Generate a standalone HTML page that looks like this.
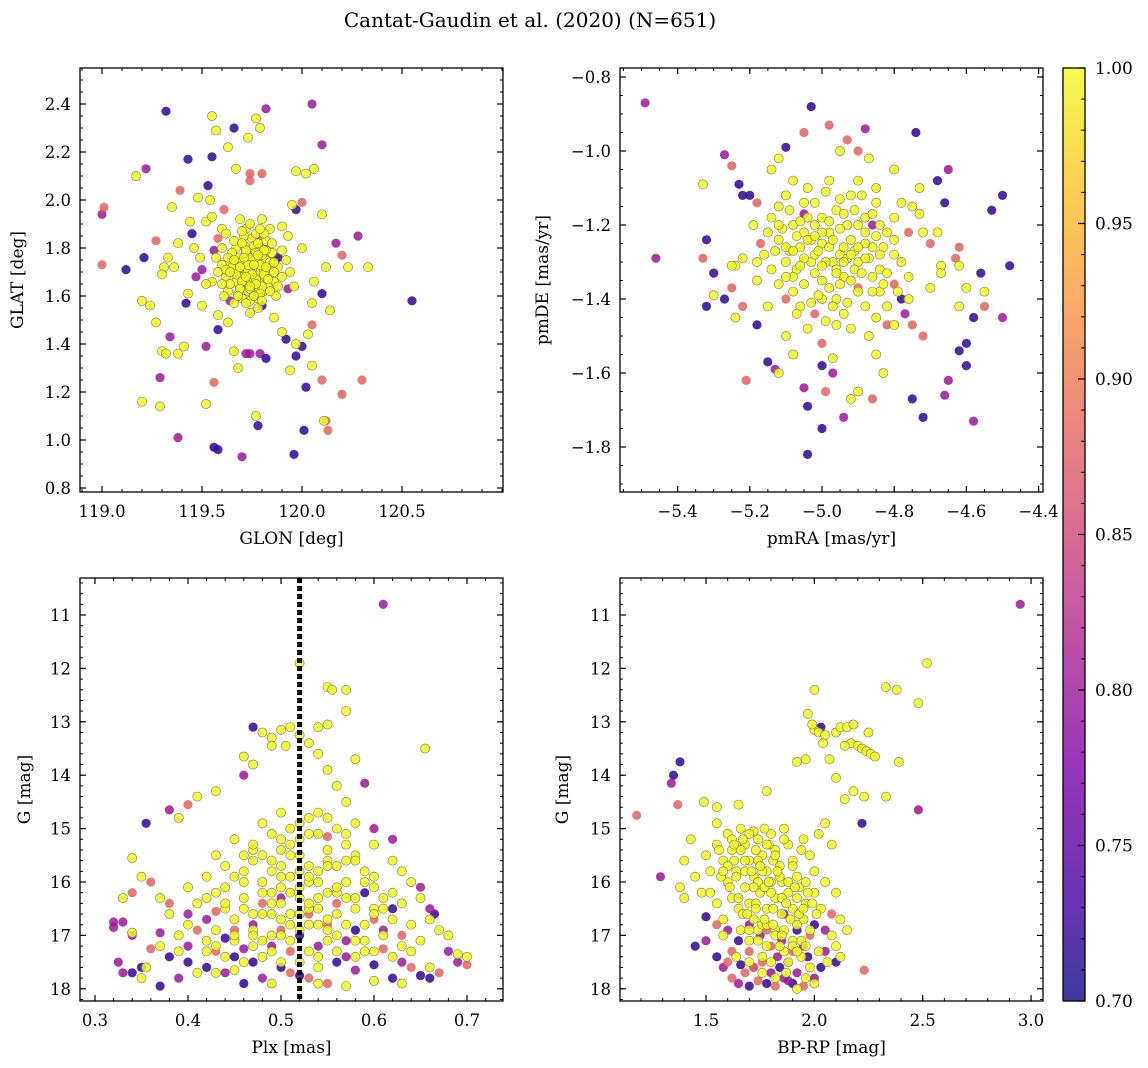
<!DOCTYPE html>
<html><head><meta charset="utf-8"><style>
html,body{margin:0;padding:0;background:#fff;}
svg{display:block;font-family:"DejaVu Serif","Liberation Serif",serif;}
</style></head><body>
<svg id="fig" width="1148" height="1068" viewBox="0 0 1148 1068">
<defs>
<linearGradient id="plasma" x1="0" y1="1" x2="0" y2="0">
<stop offset="0" stop-color="#0d0887"/><stop offset="0.125" stop-color="#4c02a1"/><stop offset="0.25" stop-color="#7e03a8"/><stop offset="0.375" stop-color="#a92395"/><stop offset="0.5" stop-color="#cc4778"/><stop offset="0.625" stop-color="#e56b5d"/><stop offset="0.75" stop-color="#f89540"/><stop offset="0.875" stop-color="#fdc527"/><stop offset="1" stop-color="#f0f921"/>
</linearGradient>
</defs>
<text x="530" y="27" font-size="20" text-anchor="middle">Cantat-Gaudin et al. (2020) (N=651)</text>
</svg>
<script>
// ---------- Panel 1: GLON / GLAT ----------
const p1OutX=[119.32,120.05,119.82,119.66,120.1,119.43,119.55,119.22,119.53,119.0,119.01,119.0,119.12,119.21,119.42,119.27,119.39,119.45,120.55,120.1,120.17,120.28,120.2,120.05,120.1,120.3,120.2,120.02,120.01,120.13,120.12,119.96,119.7,119.78,119.56,119.58,119.38,119.29,119.34,119.56,119.52,119.58,119.72,119.74,119.79,119.82,119.92,120.0,119.97,119.93,120.0,119.97,119.79,119.74,119.74,119.8,119.61,119.58,119.56,119.5,119.47,119.64,119.8,119.88];
const p1OutY=[2.37,2.40,2.38,2.30,2.23,2.17,2.18,2.13,2.06,1.94,1.97,1.73,1.71,1.76,1.57,1.83,2.04,1.86,1.58,1.61,1.82,1.85,1.77,1.48,1.25,1.25,1.19,1.22,1.04,1.04,1.08,0.94,0.93,1.06,0.97,0.96,1.01,1.26,1.43,1.24,1.39,1.46,1.36,1.36,1.36,1.34,1.42,1.39,1.35,1.63,1.99,1.96,1.85,2.11,2.08,2.11,1.96,1.84,1.79,1.71,1.68,1.58,1.56,1.76];
const p1OutP=[0.72,0.8,0.8,0.72,0.8,0.72,0.72,0.8,0.72,0.8,0.88,0.88,0.72,0.72,0.72,0.88,0.88,0.72,0.72,0.72,0.8,0.8,0.88,0.88,0.88,0.88,0.88,0.72,0.72,0.88,0.88,0.72,0.8,0.72,0.72,0.72,0.8,0.8,0.8,0.88,0.8,0.72,0.8,0.8,0.8,0.72,0.72,0.72,0.72,0.8,0.88,0.72,0.88,0.88,0.88,0.88,0.88,0.88,0.8,0.8,0.8,0.8,0.72,0.72];
const p1InX=[119.55,119.57,119.77,119.79,119.73,119.63,119.17,119.35,119.44,119.48,119.54,119.67,120.06,119.97,120.02,120.1,119.95,119.2,119.24,119.31,119.3,119.38,119.33,119.36,119.3,119.32,119.38,119.41,119.27,119.43,119.5,119.2,119.29,119.52,119.77,120.11,119.94,120.05,119.66,119.68,120.33,120.23,120.12,120.14,120.05,120.06,119.97,120.03,119.9,119.86,119.63,119.58,119.55,119.52,119.6,119.52,119.55,119.9,119.93,120.0,119.46,119.49,
119.70,119.74,119.78,119.72,119.80,119.76,119.68,119.66,119.82,119.84,119.77,119.73,119.69,119.64,119.62,119.86,119.88,119.79,119.71,119.75,119.67,119.81,119.74,119.70,119.85,119.60,119.63,119.90,119.78,119.73,119.76,119.71,119.80,119.68,119.83,119.65,119.77,119.72,119.82,119.60,119.92,119.87,119.66,119.78,119.58,119.94,119.74,119.80,119.69,119.84,119.62,119.57,119.96,119.61,119.75,119.79,119.72,119.69,119.81,119.77];
const p1InY=[2.35,2.29,2.34,2.30,2.26,2.22,2.10,1.97,1.91,2.01,2.0,2.13,2.13,2.12,2.11,1.94,1.98,1.58,1.56,1.72,1.69,1.82,1.76,1.72,1.37,1.36,1.36,1.39,1.49,1.61,1.56,1.16,1.14,1.15,1.10,1.08,1.29,1.31,1.37,1.30,1.72,1.72,1.72,1.54,1.57,1.66,1.40,1.44,1.45,1.51,1.49,1.52,1.66,1.65,1.88,1.91,1.93,1.89,1.85,1.80,1.80,1.76,
1.72,1.70,1.74,1.66,1.68,1.78,1.76,1.70,1.75,1.70,1.64,1.62,1.64,1.74,1.68,1.66,1.72,1.80,1.81,1.84,1.80,1.62,1.58,1.59,1.78,1.73,1.62,1.68,1.70,1.75,1.67,1.69,1.77,1.71,1.64,1.78,1.86,1.88,1.83,1.80,1.75,1.60,1.57,1.55,1.70,1.70,1.53,1.92,1.92,1.88,1.86,1.76,1.64,1.60,1.74,1.65,1.78,1.68,1.71,1.76];
const p1CoreX=[119.71,119.73,119.75,119.77,119.79,119.81,119.69,119.67,119.65,119.63,119.74,119.76,119.78,119.72,119.70,119.80,119.82,119.84,119.86,119.68,119.66,119.64,119.75,119.73,119.77,119.79,119.71,119.69,119.81,119.83,119.76,119.74,119.72,119.78,119.70,119.80,119.67,119.85,119.62,119.88,119.75,119.73,119.77,119.71,119.79,119.69,119.81,119.66,119.84,119.64,119.76,119.72,119.78,119.74,119.70,119.82,119.68,119.86,119.60,119.90];
const p1CoreY=[1.73,1.69,1.71,1.67,1.73,1.69,1.74,1.66,1.72,1.76,1.63,1.81,1.59,1.79,1.66,1.64,1.79,1.74,1.70,1.61,1.83,1.65,1.76,1.71,1.78,1.61,1.85,1.63,1.86,1.67,1.60,1.90,1.57,1.82,1.87,1.58,1.69,1.82,1.71,1.64,1.69,1.73,1.65,1.76,1.88,1.72,1.79,1.75,1.62,1.70,1.73,1.68,1.77,1.64,1.82,1.72,1.60,1.74,1.65,1.79];

// ---------- Panel 2: pmRA / pmDE ----------
const p2OutX=[-5.49,-5.03,-4.88,-4.74,-5.1,-4.98,-5.05,-4.93,-4.9,-5.27,-5.25,-5.23,-5.22,-5.2,-5.18,-4.65,-4.66,-4.68,-4.5,-4.48,-4.53,-4.56,-4.62,-4.63,-5.46,-5.32,-5.33,-5.3,-5.32,-5.27,-5.25,-5.22,-5.18,-5.15,-5.13,-5.21,-5.05,-5.04,-5.04,-5.0,-4.99,-4.94,-4.97,-5.0,-4.86,-4.75,-4.72,-4.66,-4.65,-4.6,-4.58,-4.6,-4.62,-4.5,-4.55,-4.58,-4.72,-4.75,-4.78,-4.77,-4.8,-4.82,-5.1,-5.02,-5.0,-4.9,-5.17,-4.76,-4.7,-4.86,-5.05];
const p2OutY=[-0.87,-0.88,-0.94,-0.95,-0.99,-0.93,-0.95,-0.97,-1.0,-1.01,-1.04,-1.09,-1.12,-1.12,-1.14,-1.05,-1.14,-1.08,-1.12,-1.31,-1.16,-1.33,-1.26,-1.29,-1.29,-1.24,-1.29,-1.33,-1.42,-1.40,-1.37,-1.42,-1.47,-1.57,-1.59,-1.62,-1.64,-1.69,-1.82,-1.75,-1.65,-1.72,-1.60,-1.58,-1.67,-1.67,-1.72,-1.66,-1.62,-1.58,-1.73,-1.52,-1.54,-1.45,-1.42,-1.45,-1.50,-1.47,-1.40,-1.44,-1.36,-1.47,-1.40,-1.44,-1.52,-1.37,-1.25,-1.22,-1.25,-1.20,-1.17];
const p2OutP=[0.8,0.72,0.8,0.72,0.72,0.88,0.88,0.88,0.88,0.8,0.88,0.72,0.72,0.72,0.88,0.8,0.72,0.72,0.72,0.72,0.72,0.72,0.88,0.88,0.8,0.72,0.88,0.72,0.72,0.72,0.88,0.88,0.72,0.72,0.8,0.88,0.8,0.72,0.72,0.72,0.88,0.8,0.8,0.72,0.88,0.72,0.72,0.8,0.8,0.72,0.8,0.72,0.72,0.8,0.88,0.72,0.88,0.88,0.72,0.8,0.88,0.88,0.88,0.88,0.88,0.88,0.88,0.88,0.88,0.8,0.8];
const p2InX=[-5.33,-5.3,-5.24,-5.25,-5.24,-5.19,-5.14,-5.12,-5.08,-4.95,-4.87,-4.8,-4.73,-4.73,-4.72,-4.68,-4.67,-4.67,-4.62,-4.6,-4.55,-4.7,-4.62,-4.85,-4.83,-4.9,-4.92,-5.08,-5.1,-5.12,-4.97,-4.92,-4.8,-4.85,-4.76,-5.15,-5.18,-5.22,-5.14,-5.12,-4.78,-4.85,-4.75,
-5.0,-4.95,-4.98,-5.03,-4.92,-4.9,-5.06,-5.08,-4.88,-4.94,-5.0,-5.05,-4.86,-4.84,-4.82,-5.1,-5.12,-4.96,-5.02,-4.92,-4.98,-5.04,-4.9,-4.96,-5.06,-4.88,-4.84,-5.14,-5.16,-4.8,-4.78,-4.8,-5.02,-4.97,-4.93,-5.07,-4.86,-5.0,-4.94,-5.08,-4.9,-5.1,-4.85,-4.99,-5.04,-4.87,-5.12,-4.76,-5.18,-4.82,-4.98,-5.02,-4.94,-4.91,-5.05,-4.88,-5.09,-4.95,-5.0,-4.83];
const p2InY=[-1.09,-1.39,-1.31,-1.31,-1.45,-1.2,-1.05,-1.02,-1.08,-1.0,-1.02,-1.05,-1.1,-1.17,-1.22,-1.22,-1.31,-1.33,-1.31,-1.37,-1.38,-1.37,-1.42,-1.55,-1.60,-1.65,-1.67,-1.55,-1.50,-1.60,-1.56,-1.48,-1.47,-1.45,-1.4,-1.42,-1.35,-1.29,-1.18,-1.15,-1.14,-1.1,-1.15,
-1.25,-1.28,-1.22,-1.3,-1.24,-1.3,-1.26,-1.2,-1.18,-1.34,-1.35,-1.36,-1.26,-1.32,-1.22,-1.3,-1.24,-1.16,-1.14,-1.12,-1.08,-1.1,-1.38,-1.4,-1.42,-1.42,-1.38,-1.32,-1.28,-1.28,-1.3,-1.18,-1.2,-1.3,-1.2,-1.32,-1.34,-1.18,-1.44,-1.38,-1.08,-1.12,-1.14,-1.46,-1.48,-1.5,-1.36,-1.34,-1.3,-1.42,-1.26,-1.28,-1.26,-1.32,-1.22,-1.22,-1.16,-1.36,-1.4,-1.26];
const p2CoreX=[-4.97,-4.99,-5.01,-4.93,-4.95,-5.03,-5.05,-4.91,-4.89,-5.07,-4.87,-5.09,-4.85,-5.11,-4.96,-5.0,-4.92,-5.04,-4.88,-5.08,-4.94,-4.98,-5.02,-4.9,-5.06,-4.86,-5.1,-4.84,-5.13,-4.82,-4.97,-5.01,-4.95,-5.03,-4.93,-5.05,-4.91,-5.07,-4.89,-4.99,-4.96,-5.0,-4.94,-5.04,-4.92,-5.08,-4.88,-5.12,-4.84,-4.8,-5.15,-4.98,-5.02,-4.96,-4.9,-5.06,-4.86,-5.1,-4.83,-4.79];
const p2CoreY=[-1.24,-1.3,-1.27,-1.29,-1.21,-1.24,-1.29,-1.27,-1.33,-1.23,-1.29,-1.27,-1.23,-1.21,-1.32,-1.22,-1.35,-1.18,-1.25,-1.34,-1.17,-1.37,-1.33,-1.2,-1.19,-1.38,-1.26,-1.2,-1.27,-1.33,-1.42,-1.39,-1.13,-1.41,-1.41,-1.14,-1.16,-1.44,-1.12,-1.11,-1.47,-1.31,-1.3,-1.24,-1.28,-1.27,-1.29,-1.2,-1.28,-1.24,-1.22,-1.19,-1.23,-1.33,-1.26,-1.31,-1.17,-1.34,-1.36,-1.38];

// ---------- Panel 3: Plx / G ----------
const p3OutX=[0.61,0.47,0.46,0.59,0.38,0.4,0.355,0.6,0.62,0.55,0.34,0.36,0.38,0.32,0.33,0.32,0.325,0.33,0.34,0.35,0.34,0.37,0.38,0.37,0.39,0.4,0.42,0.43,0.44,0.45,0.46,0.47,0.48,0.5,0.51,0.52,0.53,0.55,0.56,0.58,0.6,0.62,0.63,0.64,0.65,0.66,0.67,0.68,0.69,0.7,0.665,0.66,0.65,0.62,0.6,0.58,0.57,0.55,0.54,0.52,0.5,0.49,0.47,0.45,0.44,0.42,0.41,0.4,0.43,0.48,0.5,0.53,0.56,0.59,0.61,0.63,0.36,0.4,0.46,0.51,0.57,0.61];
const p3OutY=[10.8,13.1,14.0,14.15,14.65,14.55,14.9,15.0,15.2,15.15,16.2,16.0,16.4,16.75,16.75,16.85,17.5,17.7,17.7,17.6,17.0,16.95,17.4,17.95,17.8,17.5,17.6,17.3,17.7,17.4,17.9,17.5,17.8,17.6,17.7,17.75,17.8,17.9,17.5,17.65,17.55,17.8,17.5,17.6,17.75,17.8,17.7,17.3,17.5,17.55,16.6,16.5,16.1,16.5,16.7,16.9,17.1,16.8,17.2,17.0,16.9,17.2,16.8,16.9,17.05,16.7,16.9,16.6,16.55,16.4,16.3,16.6,16.4,16.2,16.9,17.0,17.25,17.2,17.25,17.3,17.4,17.25];
const p3OutP=[0.8,0.72,0.8,0.8,0.8,0.88,0.72,0.8,0.8,0.88,0.88,0.88,0.88,0.8,0.8,0.8,0.8,0.8,0.72,0.72,0.8,0.8,0.72,0.72,0.8,0.72,0.72,0.88,0.8,0.72,0.72,0.72,0.8,0.72,0.88,0.72,0.88,0.88,0.72,0.8,0.72,0.72,0.8,0.88,0.72,0.72,0.88,0.8,0.8,0.88,0.72,0.8,0.8,0.72,0.88,0.72,0.8,0.88,0.8,0.72,0.88,0.8,0.8,0.88,0.72,0.8,0.88,0.8,0.88,0.88,0.8,0.88,0.88,0.72,0.8,0.88,0.88,0.8,0.8,0.88,0.8,0.88];
const p3InX=[0.52,0.55,0.555,0.57,0.57,0.48,0.49,0.5,0.51,0.52,0.53,0.54,0.55,0.505,0.49,0.655,0.54,0.46,0.47,0.41,0.43,0.39,0.34,0.35,0.33,0.34,0.355,0.35,0.39,0.37,0.41,0.43,0.45,0.49,0.54,0.57,0.6,0.63,0.66,0.69,0.7,0.68,0.66,0.65,0.64,0.63,0.62,0.6,0.58,0.57,0.56,0.55,0.58,0.54,0.5,0.48,0.45,0.43,0.42,0.4,0.38,0.37,0.44,0.46,0.47,0.49,0.5,0.51,0.52,0.53,0.54,0.55,0.56,0.57,0.58,0.59,0.6,0.61,0.62,0.63,0.64,0.6,0.58,0.56,0.55,0.54,0.53,0.52,0.51,0.5,0.49,0.48,0.47,0.46,0.45,0.44,0.43,0.42,0.41,0.4,0.39,0.45,0.47,0.49,0.51,0.53,0.55,0.57,0.59,0.61,0.63,0.65,0.67,0.48,0.5,0.52,0.54,0.56,0.58,0.6,0.62,0.64,0.44,0.42,0.46,0.5,0.52,0.53,0.51,0.49,0.54,0.56,0.48,0.46,0.53,0.5,0.52,0.55,0.57];
const p3InY=[11.9,12.35,12.4,12.4,12.8,13.2,13.3,13.15,13.1,13.25,13.4,13.1,13.05,13.45,13.45,13.5,13.6,13.65,13.8,14.4,14.3,14.8,15.55,15.9,16.3,16.95,17.6,17.8,17.3,17.2,17.7,17.7,17.65,17.9,17.9,17.95,17.85,17.9,17.6,17.35,17.4,17.0,16.7,16.3,16.0,15.8,15.6,15.3,14.9,14.5,14.2,13.9,13.7,14.7,14.7,14.9,15.2,15.5,15.9,16.1,16.6,16.3,16.1,15.8,15.4,15.6,15.9,15.3,15.5,15.1,15.8,15.4,15.7,16.0,15.5,15.8,16.1,16.3,16.7,16.4,16.8,16.5,16.3,16.6,16.2,16.5,16.0,16.3,16.6,16.1,16.4,16.0,16.6,16.3,16.7,16.5,16.9,17.1,16.4,16.8,17.0,17.1,17.2,17.0,17.1,17.3,17.1,16.8,17.1,17.0,17.2,17.1,16.9,17.4,17.5,17.5,17.6,17.3,17.4,17.3,17.4,17.3,17.4,17.3,17.5,15.2,14.9,15.7,15.9,16.2,16.3,15.0,15.5,16.0,16.8,16.7,15.8,15.6,15.3];
const p3CoreX=[0.47,0.49,0.51,0.53,0.55,0.57,0.59,0.45,0.43,0.48,0.5,0.52,0.54,0.56,0.58,0.6,0.46,0.44,0.47,0.49,0.51,0.53,0.55,0.57,0.59,0.61,0.45,0.43,0.48,0.5,0.52,0.54,0.56,0.58,0.5,0.52,0.54,0.51,0.53,0.49,0.55,0.47,0.57,0.46,0.58,0.44,0.6,0.42,0.62,0.5,0.52,0.53,0.51,0.48,0.55,0.56,0.54,0.49,0.47,0.59];
const p3CoreY=[15.6,15.8,15.5,15.9,15.7,15.6,16.0,15.9,16.2,16.2,16.4,16.1,16.0,16.2,16.5,16.6,16.5,16.4,16.9,16.6,16.8,16.5,16.7,16.3,16.8,16.5,17.0,17.2,17.1,17.0,16.9,16.8,17.0,17.1,15.4,15.2,15.1,15.0,14.8,15.1,14.8,15.3,15.1,15.5,15.6,15.7,15.9,16.3,16.2,15.7,16.6,16.4,16.2,16.6,16.9,16.1,17.4,17.3,17.0,17.3];
const plxMarker=[0.52];

// ---------- Panel 4: BP-RP / G ----------
const p4OutX=[2.95,1.38,1.35,1.34,1.18,1.29,1.37,2.03,2.22,2.48,2.23,1.45,1.5,1.5,1.55,1.58,1.6,1.62,1.65,1.68,1.7,1.72,1.74,1.76,1.78,1.8,1.82,1.84,1.86,1.88,1.9,1.92,1.95,1.97,2.0,2.03,2.05,2.1,1.95,1.9,1.85,1.8,1.75,1.7,1.65,1.6,1.55,1.62,1.7,1.78,1.86,1.92,1.98,2.0,2.05,2.08,1.72,1.83,1.88,1.66];
const p4OutY=[10.8,13.75,14.0,14.15,14.75,15.9,14.55,13.1,14.9,14.65,17.65,17.2,17.1,16.65,17.4,17.6,17.5,17.8,17.9,17.7,17.95,17.6,17.85,17.5,17.9,17.7,17.95,17.6,17.8,17.5,17.9,17.7,17.95,17.4,17.8,17.6,17.3,17.5,17.2,17.3,17.1,17.2,17.0,17.3,17.1,16.9,16.8,17.3,16.8,16.9,16.6,16.9,17.0,16.8,16.9,16.6,17.6,17.4,17.85,17.55];
const p4OutP=[0.8,0.72,0.72,0.8,0.88,0.8,0.88,0.72,0.72,0.8,0.88,0.72,0.8,0.72,0.72,0.8,0.88,0.88,0.8,0.88,0.72,0.8,0.88,0.88,0.72,0.8,0.88,0.72,0.8,0.88,0.72,0.8,0.88,0.72,0.8,0.72,0.8,0.72,0.8,0.88,0.8,0.88,0.8,0.88,0.72,0.8,0.88,0.88,0.8,0.88,0.8,0.72,0.88,0.72,0.8,0.88,0.88,0.8,0.8,0.72];
const p4InX=[2.0,2.02,2.05,2.04,2.1,2.12,2.15,2.17,2.2,2.22,2.24,2.26,2.25,2.28,2.14,2.18,2.0,1.97,1.99,2.33,2.38,2.52,2.48,2.39,2.33,2.23,2.18,2.14,2.1,2.07,1.96,1.92,1.78,1.49,1.55,1.55,1.65,1.43,1.4,1.38,1.4,1.45,1.48,1.5,1.52,1.55,1.58,1.6,1.62,1.64,1.66,1.68,1.7,1.72,1.74,1.76,1.78,1.8,1.82,1.84,1.86,1.88,1.9,1.92,1.95,1.98,2.0,2.02,2.05,2.08,1.6,1.62,1.65,1.68,1.7,1.72,1.75,1.78,1.8,1.82,1.85,1.88,1.9,1.93,1.96,2.0,2.03,1.55,1.52,1.58,1.66,1.7,1.74,1.78,1.82,1.86,1.9,1.94,1.98,2.02,2.06,2.1,2.12,2.15,2.08,2.1,2.12,2.0,1.96,1.92,1.87,1.82,1.76,1.7,1.64,1.58,1.72,1.68,1.74,1.63,1.77,1.57,1.85,1.81,1.95,1.92,2.05,1.67,1.76,1.73,1.79];
const p4InY=[13.15,13.2,13.25,13.4,13.2,13.1,13.1,13.4,13.45,13.5,13.55,13.6,13.2,13.65,13.45,13.05,12.4,12.85,13.05,12.35,12.4,11.9,12.65,13.75,14.4,14.4,14.3,14.45,14.05,13.7,13.7,13.75,14.3,14.5,14.9,14.6,14.55,15.2,15.6,16.1,16.3,15.9,16.2,15.5,15.8,15.3,15.6,15.1,15.4,15.8,15.0,15.3,15.6,15.9,15.2,15.5,15.8,15.1,15.4,15.7,15.0,15.3,15.6,15.9,15.2,15.5,15.8,15.1,14.9,15.3,16.0,16.3,16.5,16.1,16.4,16.7,16.2,16.5,16.0,16.3,16.6,16.2,16.5,16.1,16.4,16.2,16.5,16.4,16.2,16.7,16.9,17.1,16.9,17.2,16.9,17.3,17.1,17.4,17.6,17.3,17.5,17.2,17.4,16.9,17.0,16.2,16.7,17.9,17.8,18.0,17.7,17.8,17.7,17.5,17.4,17.0,15.05,15.8,16.0,15.6,15.0,15.9,16.0,15.6,16.7,16.8,16.0,16.6,16.8,15.4,15.3];
const p4CoreX=[1.62,1.66,1.7,1.74,1.78,1.82,1.86,1.9,1.94,1.6,1.64,1.68,1.72,1.76,1.8,1.84,1.88,1.92,1.96,1.65,1.69,1.73,1.77,1.81,1.85,1.89,1.93,1.97,2.01,1.7,1.74,1.78,1.82,1.86,1.9,1.94,1.98,1.76,1.8,1.84,1.88,1.92,1.96,1.56,1.58,1.61,1.63,1.67,1.71,1.75,1.79,1.83,1.87,1.91,1.95,1.99,1.73,1.77,1.81,1.85];
const p4CoreY=[15.2,15.4,15.1,15.6,15.3,15.5,15.2,15.7,15.4,15.7,15.9,15.6,16.1,15.8,16.2,15.9,16.0,16.3,16.0,16.3,16.6,16.4,16.1,16.5,16.3,16.7,16.6,16.2,16.6,16.9,17.1,16.8,17.0,16.9,17.2,17.1,16.9,17.4,17.5,17.2,17.5,17.3,17.2,15.4,15.8,16.1,15.3,15.2,15.8,15.7,16.0,15.8,16.4,16.1,16.5,16.4,16.5,16.7,16.8,17.0];

// ---------- Axis tick definitions ----------
const p1XTicks=[119.0,119.5,120.0,120.5];
const p1YTicks=[0.8,1.0,1.2,1.4,1.6,1.8,2.0,2.2,2.4];
const p2XTicks=[-5.4,-5.2,-5.0,-4.8,-4.6,-4.4];
const p2YTicks=[-1.8,-1.6,-1.4,-1.2,-1.0,-0.8];
const p3XTicks=[0.3,0.4,0.5,0.6,0.7];
const gTicks=[11,12,13,14,15,16,17,18];
const p4XTicks=[1.5,2.0,2.5,3.0];
const cbTicks=[0.70,0.75,0.80,0.85,0.90,0.95,1.00];

const NS='http://www.w3.org/2000/svg';
const svg=document.getElementById('fig');
function mk(tag,attrs,parent){const e=document.createElementNS(NS,tag);for(const k in attrs)e.setAttribute(k,attrs[k]);(parent||svg).appendChild(e);return e;}

const plasmaStops=[[0,[13,8,135]],[0.125,[76,2,161]],[0.25,[126,3,168]],[0.375,[169,35,149]],[0.5,[204,71,120]],[0.625,[229,107,93]],[0.75,[248,149,64]],[0.875,[253,197,39]],[1,[240,249,33]]];
function plasma(p){let t=Math.max(0,Math.min(1,(p-0.7)/0.3));for(let i=1;i<plasmaStops.length;i++){if(t<=plasmaStops[i][0]){const a=plasmaStops[i-1],b=plasmaStops[i];const f=(t-a[0])/(b[0]-a[0]);const c=a[1].map((v,j)=>Math.round(v+(b[1][j]-v)*f));return 'rgb('+c.join(',')+')';}}return 'rgb(240,249,33)';}

function panel(cfg){
  const g=mk('g',{});
  
  
  const pts=mk('g',{},g);
  
  
  const draw=(xs,ys,ps)=>{for(let i=0;i<xs.length;i++){const p=ps?ps[i]:1.0;const c=mk('circle',{cx:cfg.sx(xs[i]).toFixed(1),cy:cfg.sy(ys[i]).toFixed(1),r:4.6,fill:plasma(p),'fill-opacity':0.85,stroke:p>=0.99?'#7a7a50':'none','stroke-width':0.6},pts);
    
    }};
  draw(cfg.outX,cfg.outY,cfg.outP);
  draw(cfg.inX,cfg.inY,null);
  draw(cfg.coreX,cfg.coreY,null);
  if(cfg.extra)cfg.extra(g);
  const L=cfg.L,R=cfg.R,T=cfg.T,B=cfg.B;
  const fr=mk('rect',{x:L,y:T,width:R-L,height:B-T,fill:'none',stroke:'#000','stroke-width':1.3},g);
  
  
  for(let v=cfg.xMinStart;v<=cfg.xMinEnd+1e-9;v+=cfg.xMinStep){const x=cfg.sx(v);if(x<L||x>R)continue;mk('line',{x1:x,x2:x,y1:B,y2:B-3,stroke:'#000','stroke-width':1},g);mk('line',{x1:x,x2:x,y1:T,y2:T+3,stroke:'#000','stroke-width':1},g);}
  for(let v=cfg.yMinStart;v<=cfg.yMinEnd+1e-9;v+=cfg.yMinStep){const y=cfg.sy(v);if(y<T||y>B)continue;mk('line',{x1:L,x2:L+3,y1:y,y2:y,stroke:'#000','stroke-width':1},g);mk('line',{x1:R,x2:R-3,y1:y,y2:y,stroke:'#000','stroke-width':1},g);}
  cfg.xTicks.forEach(v=>{const x=cfg.sx(v);mk('line',{x1:x,x2:x,y1:B,y2:B-6,stroke:'#000','stroke-width':1.2},g);mk('line',{x1:x,x2:x,y1:T,y2:T+6,stroke:'#000','stroke-width':1.2},g);
    const t=mk('text',{x:x,y:B+25,'font-size':16.5,'text-anchor':'middle'},g);t.textContent=cfg.xFmt(v);
    
    });
  cfg.yTicks.forEach(v=>{const y=cfg.sy(v);mk('line',{x1:L,x2:L+6,y1:y,y2:y,stroke:'#000','stroke-width':1.2},g);mk('line',{x1:R,x2:R-6,y1:y,y2:y,stroke:'#000','stroke-width':1.2},g);
    const t=mk('text',{x:L-9,y:y+6,'font-size':16.5,'text-anchor':'end'},g);t.textContent=cfg.yFmt(v);
    
    });
  const xl=mk('text',{x:(L+R)/2,y:B+52,'font-size':17,'text-anchor':'middle'},g);xl.textContent=cfg.xLabel;
  
  
  const yx=cfg.yLabX,yy=(T+B)/2;
  const yl=mk('text',{x:yx,y:yy,'font-size':17,'text-anchor':'middle',transform:'rotate(-90 '+yx+' '+yy+')'},g);yl.textContent=cfg.yLabel;
  
  
}
const minus=s=>s.replace('-','\u2212');
const gy=v=>615+(v-11)*53.4;

panel({name:'glon-glat-panel',L:80,R:503,T:68,B:492,sx:v=>102+(v-119)*200,sy:v=>488-(v-0.8)*240,
 outX:p1OutX,outY:p1OutY,outP:p1OutP,inX:p1InX,inY:p1InY,coreX:p1CoreX,coreY:p1CoreY,
 xTicks:p1XTicks,yTicks:p1YTicks,xMinStart:118.9,xMinEnd:121,xMinStep:0.1,yMinStart:0.8,yMinEnd:2.6,yMinStep:0.05,
 xFmt:v=>v.toFixed(1),yFmt:v=>v.toFixed(1),xLabel:'GLON [deg]',yLabel:'GLAT [deg]',yLabX:23});
panel({name:'pm-panel',L:620,R:1043,T:68,B:492,sx:v=>822+(v+5)*361,sy:v=>151-(v+1)*370,
 outX:p2OutX,outY:p2OutY,outP:p2OutP,inX:p2InX,inY:p2InY,coreX:p2CoreX,coreY:p2CoreY,
 xTicks:p2XTicks,yTicks:p2YTicks,xMinStart:-5.6,xMinEnd:-4.3,xMinStep:0.05,yMinStart:-1.95,yMinEnd:-0.75,yMinStep:0.05,
 xFmt:v=>minus(v.toFixed(1)),yFmt:v=>minus(v.toFixed(1)),xLabel:'pmRA [mas/yr]',yLabel:'pmDE [mas/yr]',yLabX:548});
panel({name:'plx-g-panel',L:80,R:503,T:578,B:1001,sx:v=>95+(v-0.3)*930,sy:gy,
 outX:p3OutX,outY:p3OutY,outP:p3OutP,inX:p3InX,inY:p3InY,coreX:p3CoreX,coreY:p3CoreY,
 xTicks:p3XTicks,yTicks:gTicks,xMinStart:0.28,xMinEnd:0.76,xMinStep:0.02,yMinStart:10.2,yMinEnd:18.4,yMinStep:0.2,
 xFmt:v=>v.toFixed(1),yFmt:v=>String(v),xLabel:'Plx [mas]',yLabel:'G [mag]',yLabX:30,
 extra:g=>{const x=95+(plxMarker[0]-0.3)*930;const l=mk('line',{x1:x,x2:x,y1:578,y2:1001,stroke:'#000','stroke-width':5,'stroke-dasharray':'5,3'},g);
   
   }});
panel({name:'cmd-panel',L:620,R:1043,T:578,B:1001,sx:v=>706+(v-1.5)*216.7,sy:gy,
 outX:p4OutX,outY:p4OutY,outP:p4OutP,inX:p4InX,inY:p4InY,coreX:p4CoreX,coreY:p4CoreY,
 xTicks:p4XTicks,yTicks:gTicks,xMinStart:1.1,xMinEnd:3.1,xMinStep:0.1,yMinStart:10.2,yMinEnd:18.4,yMinStep:0.2,
 xFmt:v=>v.toFixed(1),yFmt:v=>String(v),xLabel:'BP-RP [mag]',yLabel:'G [mag]',yLabX:568});

// colorbar
const cb=mk('g',{});


mk('rect',{x:1063,y:68,width:22,height:933,fill:'url(#plasma)','fill-opacity':0.8},cb);
mk('rect',{x:1063,y:68,width:22,height:933,fill:'none',stroke:'#000','stroke-width':1.3},cb);
const cy=v=>1001-(v-0.7)/0.3*933;
for(let v=0.70;v<=1.0001;v+=0.01){mk('line',{x1:1085,x2:1081,y1:cy(v),y2:cy(v),stroke:'#000','stroke-width':1},cb);}
cbTicks.forEach(v=>{mk('line',{x1:1085,x2:1078,y1:cy(v),y2:cy(v),stroke:'#000','stroke-width':1.2},cb);
 const t=mk('text',{x:1095,y:cy(v)+6,'font-size':17},cb);t.textContent=v.toFixed(2);
 
 });
</script>
</body></html>
